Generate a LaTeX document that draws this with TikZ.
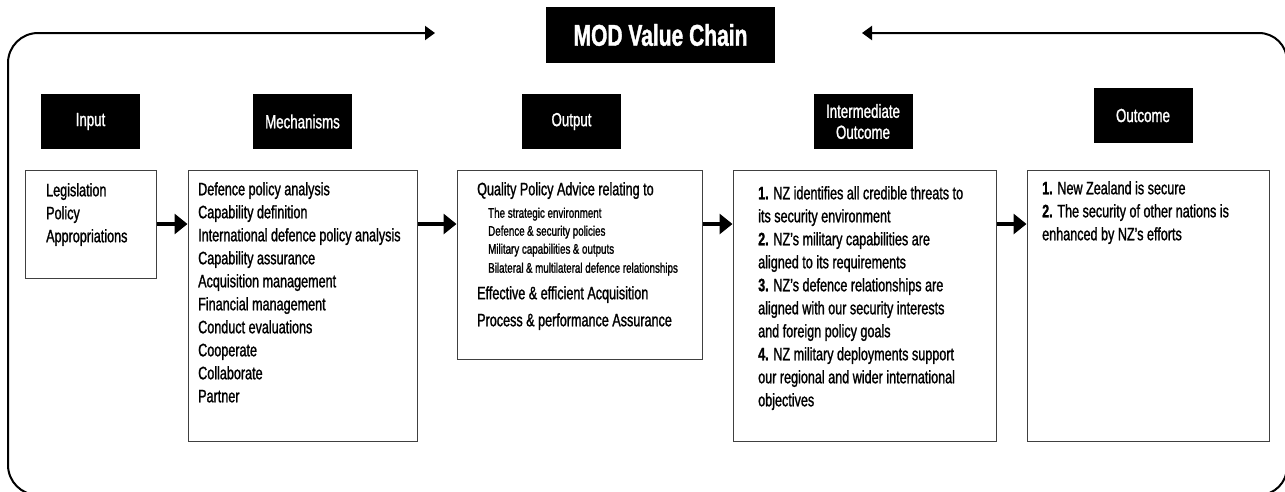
\documentclass[tikz,border=0pt]{standalone}
\usepackage{fontspec}
\setmainfont[FakeStretch=0.7, FakeBold=1.2]{Liberation Sans}
\usetikzlibrary{arrows.meta}

\begin{document}
\begin{tikzpicture}[x=1pt, y=-1pt,
  head/.style={fill=black, text=white, minimum width=99pt, minimum height=55pt, inner sep=2pt, align=center, font=\fontsize{19}{21}\selectfont},
  box/.style={draw=black!75, line width=1pt, fill=white},
  txt/.style={anchor=north west, inner sep=0pt, align=left, font=\fontsize{18}{23}\selectfont},
  flow/.style={line width=3.5pt, -{Triangle[length=13pt,width=20pt]}},
  frame/.style={line width=2pt, -{Triangle[length=10pt,width=14pt]}}]
  \useasboundingbox (0,0) rectangle (1285,491);

  \coordinate (lefttip) at (435,33);
  \coordinate (righttip) at (862,33);
  \draw[frame, rounded corners=30pt] (80,495) -- (8,495) -- (8,33) -- (lefttip);
  \draw[frame, rounded corners=28pt] (1200,495) -- (1287,495) -- (1287,33) -- (righttip);
  \node[head, minimum width=229pt, minimum height=56pt, font=\bfseries\fontsize{30}{36}\selectfont] (title) at (660.5,35) {MOD Value Chain};

  \node[head] (inhead) at (90.5,121.5) {Input};
  \node[head] (mechhead) at (302.5,121.5) {Mechanisms};
  \node[head] (outhead) at (571.5,121.5) {Output};
  \node[head] (midhead) at (863,121.5) {Intermediate\\Outcome};
  \node[head] (endhead) at (1143,115.5) {Outcome};

  \node[box, minimum width=131pt, minimum height=108pt] (inbox) at (90.5,224) {};
  \node[box, minimum width=229pt, minimum height=271pt] (mechbox) at (302.5,305.5) {};
  \node[box, minimum width=245pt, minimum height=189pt] (outbox) at (579.5,264.5) {};
  \node[box, minimum width=263pt, minimum height=271pt] (midbox) at (864.5,305.5) {};
  \node[box, minimum width=242pt, minimum height=271pt] (endbox) at (1148,305.5) {};

  \node[txt] (intext) at (46,183) {Legislation\\Policy\\Appropriations};
  \node[txt] (mechtext) at (198,182) {Defence policy analysis\\Capability definition\\International defence policy analysis\\Capability assurance\\Acquisition management\\Financial management\\Conduct evaluations\\Cooperate\\Collaborate\\Partner};
  \node[txt, font=\fontsize{18}{18}\selectfont] (outtext) at (477,182) {Quality Policy Advice relating to\\[4.5pt]
    \hspace{11pt}{\fontsize{14}{14}\selectfont The strategic environment}\\
    \hspace{11pt}{\fontsize{14}{14}\selectfont Defence\,\& security policies}\\
    \hspace{11pt}{\fontsize{14}{14}\selectfont Military capabilities\,\& outputs}\\[1pt]
    \hspace{11pt}{\fontsize{14}{14}\selectfont Bilateral\,\& multilateral defence relationships}\\[8.5pt]
    Effective \& efficient Acquisition\\[9pt]
    Process \& performance Assurance};
  \node[txt] (midtext) at (758,186) {\textbf{1.} NZ identifies all credible threats to\\its security environment\\\textbf{2.} NZ's military capabilities are\\aligned to its requirements\\\textbf{3.} NZ's defence relationships are\\aligned with our security interests\\and foreign policy goals\\\textbf{4.} NZ military deployments support\\our regional and wider international\\objectives};
  \node[txt] (endtext) at (1042,181) {\textbf{1.} New Zealand is secure\\\textbf{2.} The security of other nations is\\enhanced by NZ's efforts};

  \draw[flow] (inbox.east) -- (inbox.east -| mechbox.west);
  \draw[flow] (mechbox.east |- inbox.east) -- (outbox.west |- inbox.east);
  \draw[flow] (outbox.east |- inbox.east) -- (midbox.west |- inbox.east);
  \draw[flow] (midbox.east |- inbox.east) -- (endbox.west |- inbox.east);
\end{tikzpicture}
\end{document}
